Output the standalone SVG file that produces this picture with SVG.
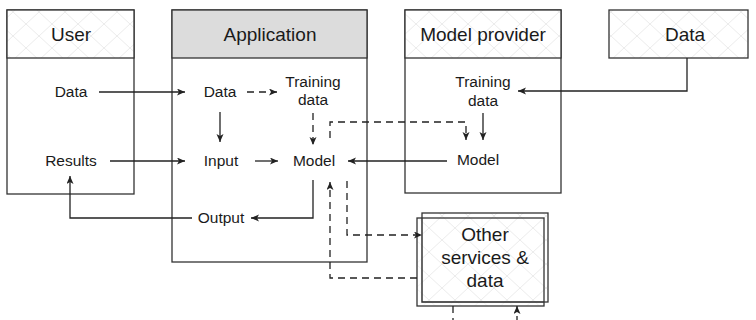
<svg xmlns="http://www.w3.org/2000/svg" width="756" height="320" viewBox="0 0 756 320">
<defs>
<pattern id="hatch" patternUnits="userSpaceOnUse" width="26" height="24">
<rect width="26" height="24" fill="#ffffff"/>
<path d="M0,0 L26,24 M26,0 L0,24" stroke="#ececec" stroke-width="1" fill="none"/>
</pattern>
<marker id="ah" markerUnits="userSpaceOnUse" markerWidth="10" markerHeight="8" refX="8" refY="3.5" orient="auto">
<path d="M0,0 L8,3.5 L0,7 L2,3.5 z" fill="#222"/>
</marker>
</defs>
<style>
.box{fill:#fff;stroke:#333;stroke-width:1.3}
.hd{fill:url(#hatch);stroke:#333;stroke-width:1.3}
.hdg{fill:#dcdcdc;stroke:#333;stroke-width:1.3}
.ht{font-family:"Liberation Sans",Arial,sans-serif;font-size:19px;fill:#1a1a1a;text-anchor:middle}
.bt{font-family:"Liberation Sans",Arial,sans-serif;font-size:15.5px;fill:#1a1a1a;text-anchor:middle}
.c{fill:none;stroke:#222;stroke-width:1.3}
.d{fill:none;stroke:#222;stroke-width:1.3;stroke-dasharray:7 5}
</style>

<g id="user">
<rect class="box" x="7" y="10" width="127" height="184"/>
<rect class="hd" x="7" y="10" width="127" height="48"/>
<text class="ht" x="71" y="41">User</text>
<text class="bt" x="71" y="97">Data</text>
<text class="bt" x="71" y="166">Results</text>
</g>

<g id="application">
<rect class="box" x="172" y="10" width="195" height="252"/>
<rect class="hdg" x="172" y="10" width="195" height="48"/>
<text class="ht" x="270" y="41">Application</text>
<text class="bt" x="220" y="97">Data</text>
<text class="bt" x="313" y="87">Training</text>
<text class="bt" x="313" y="105">data</text>
<text class="bt" x="221" y="166">Input</text>
<text class="bt" x="314" y="166">Model</text>
<text class="bt" x="221" y="223">Output</text>
</g>

<g id="model-provider">
<rect class="box" x="405" y="10" width="156" height="183"/>
<rect class="hd" x="405" y="10" width="156" height="48"/>
<text class="ht" x="483" y="41">Model provider</text>
<text class="bt" x="483" y="87">Training</text>
<text class="bt" x="483" y="106">data</text>
<text class="bt" x="478" y="165">Model</text>
</g>

<g id="data">
<rect class="hd" x="609" y="10" width="139" height="48"/>
<text class="ht" x="685" y="41">Data</text>
</g>

<g id="other-services">
<rect class="hd" x="422" y="213" width="126" height="89"/>
<rect class="hd" x="417" y="218" width="127" height="88" fill-opacity="0.6"/>
<path d="M422,218 L422,302 L544,302" fill="none" stroke="#333" stroke-width="1.3"/>
<text class="ht" x="485" y="241">Other</text>
<text class="ht" x="485" y="264">services &amp;</text>
<text class="ht" x="485" y="287">data</text>
</g>

<g id="connectors">
<path class="c" d="M99,92 H185" marker-end="url(#ah)"/>
<path class="d" d="M247,92 H277" marker-end="url(#ah)"/>
<path class="c" d="M220,112 V142" marker-end="url(#ah)"/>
<path class="d" d="M313,113 V145" marker-end="url(#ah)"/>
<path class="c" d="M110,161 H185" marker-end="url(#ah)"/>
<path class="c" d="M255,161 H278" marker-end="url(#ah)"/>
<path class="c" d="M447,161 H348" marker-end="url(#ah)"/>
<path class="c" d="M313,180 V218 H251" marker-end="url(#ah)"/>
<path class="c" d="M192,218 H70 V176" marker-end="url(#ah)"/>
<path class="d" d="M330,138 V122 H466 V140" marker-end="url(#ah)"/>
<path class="c" d="M483,113 V140" marker-end="url(#ah)"/>
<path class="c" d="M687,58 V91 H518" marker-end="url(#ah)"/>
<path class="d" d="M347,181 V235 H422" marker-end="url(#ah)"/>
<path class="d" d="M417,278 H330 V182" marker-end="url(#ah)"/>
<path class="d" d="M453,306 V320"/>
<path class="d" d="M517,320 V306" stroke-dashoffset="3" marker-end="url(#ah)"/>
</g>
</svg>
